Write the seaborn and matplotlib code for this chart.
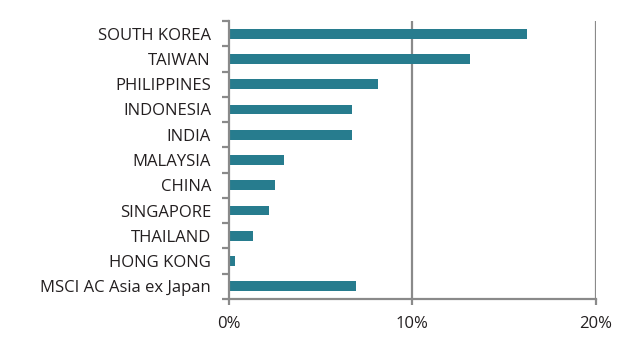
import numpy as np
import pandas as pd
import seaborn as sns
import matplotlib.pyplot as plt
from matplotlib.ticker import FixedLocator, PercentFormatter

countries = ["SOUTH KOREA", "TAIWAN", "PHILIPPINES", "INDONESIA", "INDIA",
             "MALAYSIA", "CHINA", "SINGAPORE", "THAILAND", "HONG KONG",
             "MSCI AC Asia ex Japan"]
weights = [16.26, 13.16, 8.13, 6.71, 6.71, 3.02, 2.53, 2.20, 1.33, 0.31, 6.93]
x_ticks = [0, 10, 20]

bar_color = "#277C8E"
axis_grey = "#8A8A8A"
text_color = "#231F20"

df = pd.DataFrame({"country": countries, "weight": weights})

sns.set_style("white")
plt.rcParams["font.family"] = ["Open Sans", "DejaVu Sans"]

fig = plt.figure(figsize=(6.31, 3.53), dpi=100)
ax = fig.add_axes([229 / 631, 54 / 353, (595.7 - 229) / 631, (332 - 54) / 353])

sns.barplot(data=df, y="country", x="weight", orient="h", color=bar_color,
            width=0.39, saturation=1, linewidth=0, ax=ax)

ax.set_xlim(0, 20)
ax.set_ylim(len(countries) - 0.5, -0.5)
ax.set_xticks(x_ticks)
ax.xaxis.set_major_formatter(PercentFormatter(decimals=0))
ax.set_xlabel("")
ax.set_ylabel("")

# vertical gridlines at 10% and 20%
for v in x_ticks[1:]:
    ax.axvline(v, color=axis_grey, lw=1.6, zorder=0)

for side in ["top", "right"]:
    ax.spines[side].set_visible(False)
for side in ["left", "bottom"]:
    ax.spines[side].set_color(axis_grey)
    ax.spines[side].set_linewidth(1.6)

# category separators as minor ticks on y
ax.yaxis.set_minor_locator(FixedLocator(np.arange(len(countries) + 1) - 0.5))
ax.tick_params(axis="y", which="major", length=0, pad=13, labelsize=12,
               labelcolor=text_color)
ax.tick_params(axis="y", which="minor", left=True, length=5, width=1.6,
               color=axis_grey, direction="out")
ax.tick_params(axis="x", which="major", bottom=True, length=4, width=1.6,
               color=axis_grey, direction="out", pad=8, labelsize=12,
               labelcolor=text_color)

fig.savefig("out.png", dpi=100)
